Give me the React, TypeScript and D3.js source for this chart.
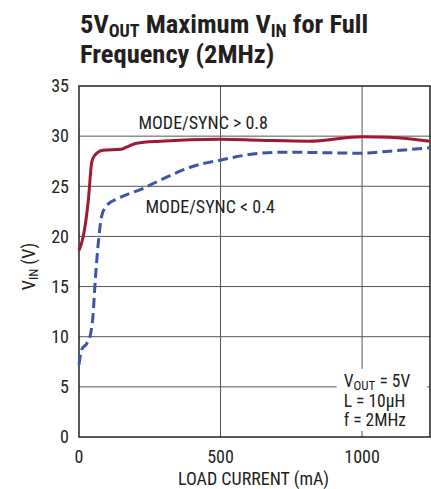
import React from "react";
import * as d3 from "d3";

const xTicks = [0, 500, 1000];
const yTicks = [0, 5, 10, 15, 20, 25, 30, 35];

// MODE/SYNC > 0.8
const highLoad = [0, 15, 33, 45, 56, 85, 150, 168, 204, 286, 498, 639, 812, 1000, 1098, 1240];
const highVin = [18.6, 20.0, 23.6, 27.4, 28.1, 28.6, 28.7, 28.9, 29.3, 29.5, 29.7, 29.6, 29.5, 29.95, 29.9, 29.5];

// MODE/SYNC < 0.4
const lowLoad = [0, 9, 27, 41, 50, 56, 68, 80, 98, 139, 227, 286, 404, 498, 639, 721, 1000, 1098, 1240];
const lowVin = [7.2, 8.7, 9.3, 10.3, 12.3, 15.0, 19.3, 22.0, 23.1, 23.8, 24.8, 25.6, 27.0, 27.6, 28.3, 28.4, 28.3, 28.5, 28.85];

const FONT = "'Liberation Sans Narrow', 'Roboto Condensed', 'DejaVu Sans Condensed', sans-serif";

export default function App() {
  const width = 431;
  const height = 489;
  const margin = { top: 86, right: 1, bottom: 52, left: 79 };
  const w = width - margin.left - margin.right;
  const h = height - margin.top - margin.bottom;

  const x = d3.scaleLinear().domain([0, 1240]).range([0, w]);
  const y = d3.scaleLinear().domain([0, 35]).range([h, 0]);

  const line = d3
    .line<[number, number]>()
    .x((d) => x(d[0]))
    .y((d) => y(d[1]))
    .curve(d3.curveMonotoneX);

  const highPts = highLoad.map((v, i) => [v, highVin[i]] as [number, number]);
  const lowPts = lowLoad.map((v, i) => [v, lowVin[i]] as [number, number]);

  return (
    <svg
      width={width}
      height={height}
      style={{ position: "absolute", left: 0, top: 0, background: "#fff" }}
      fontFamily={FONT}
    >
      {/* title */}
      <text x={80} y={33} fontSize={26.5} fontWeight="bold" fill="#231f20">
        5V<tspan fontSize={18} dy={4}>OUT</tspan>
        <tspan dy={-4}> Maximum V</tspan>
        <tspan fontSize={18} dy={4}>IN</tspan>
        <tspan dy={-4}> for Full</tspan>
      </text>
      <text x={80} y={63} fontSize={26.5} fontWeight="bold" fill="#231f20">
        Frequency (2MHz)
      </text>

      <g transform={`translate(${margin.left},${margin.top})`}>
        {/* grid */}
        {yTicks.slice(1, -1).map((t) => (
          <line key={"gy" + t} x1={0} x2={w} y1={y(t)} y2={y(t)} stroke="#555" strokeWidth={1} />
        ))}
        {xTicks.slice(1).map((t) => (
          <line key={"gx" + t} x1={x(t)} x2={x(t)} y1={0} y2={h} stroke="#555" strokeWidth={1} />
        ))}

        {/* annotation box */}
        <rect x={x(910)} y={y(6.8)} width={x(1230) - x(910)} height={y(0.6) - y(6.8)} fill="#fff" />
        <g fontSize={17.5} fill="#231f20">
          <text x={x(935)} y={y(4.95)}>
            V<tspan fontSize={13} dy={3}>OUT</tspan>
            <tspan dy={-3}> = 5V</tspan>
          </text>
          <text x={x(935)} y={y(2.95)}>L = 10µH</text>
          <text x={x(935)} y={y(1.05)}>f = 2MHz</text>
        </g>

        {/* frame */}
        <rect x={0} y={0} width={w} height={h} fill="none" stroke="#231f20" strokeWidth={1.5} />

        {/* curves */}
        <path d={line(lowPts) || ""} fill="none" stroke="#3a56a5" strokeWidth={3} strokeDasharray="10,5" />
        <path d={line(highPts) || ""} fill="none" stroke="#9c1b34" strokeWidth={3} />

        {/* curve labels */}
        <text x={x(210)} y={y(30.7)} fontSize={18} fill="#231f20">
          MODE/SYNC &gt; 0.8
        </text>
        <text x={x(235)} y={y(22.3)} fontSize={18} fill="#231f20">
          MODE/SYNC &lt; 0.4
        </text>

        {/* y tick labels */}
        {yTicks.map((t) => (
          <text key={"ty" + t} x={-10} y={y(t)} dy="0.35em" textAnchor="end" fontSize={18} fill="#231f20">
            {t}
          </text>
        ))}
        {/* x tick labels */}
        {xTicks.map((t) => (
          <text key={"tx" + t} x={x(t)} y={h + 26} textAnchor="middle" fontSize={18} fill="#231f20">
            {t}
          </text>
        ))}

        <text x={w / 2 - 1} y={h + 48} textAnchor="middle" fontSize={18} fill="#231f20">
          LOAD CURRENT (mA)
        </text>
        <text transform={`translate(${-44},${h / 2 + 5}) rotate(-90)`} textAnchor="middle" fontSize={18} fill="#231f20">
          V<tspan fontSize={13} dy={3}>IN</tspan>
          <tspan dy={-3}> (V)</tspan>
        </text>
      </g>
    </svg>
  );
}
